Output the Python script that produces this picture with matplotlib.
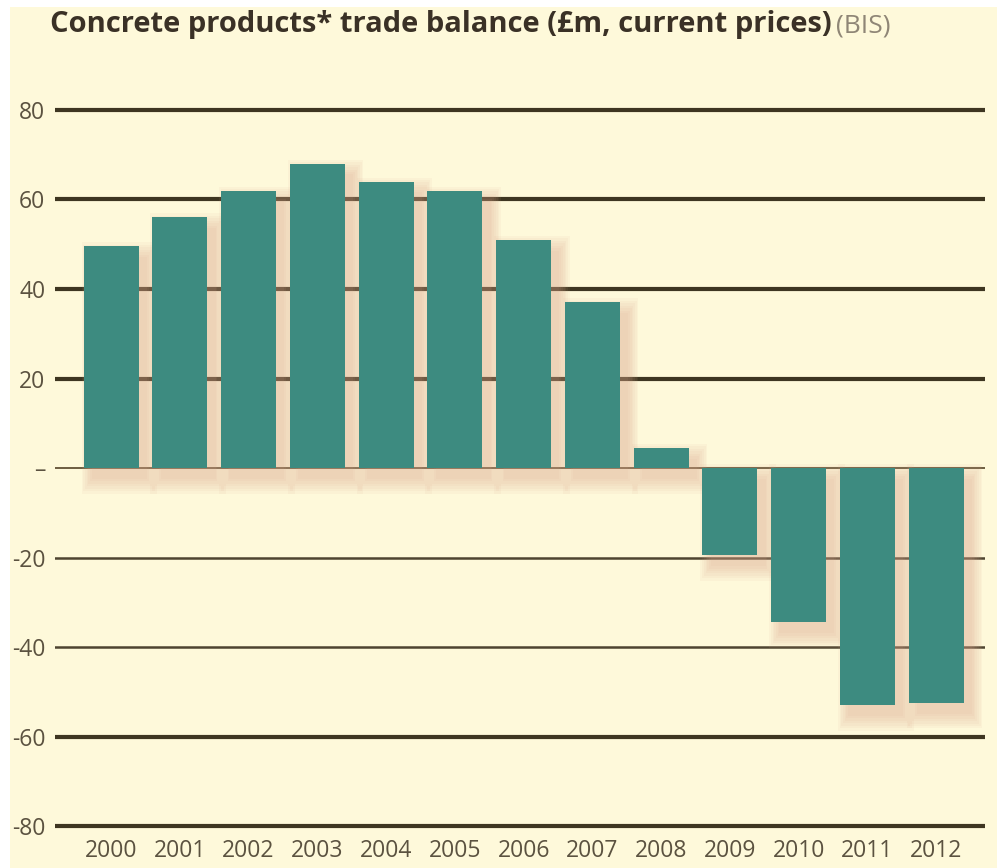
import numpy as np
import matplotlib
matplotlib.use("Agg")
import matplotlib.pyplot as plt
from matplotlib.patches import Rectangle

# trade balance, £m current prices
years = ['2000', '2001', '2002', '2003', '2004', '2005', '2006',
         '2007', '2008', '2009', '2010', '2011', '2012']
balance = [49.5, 56, 62, 68, 64, 62, 51, 37, 4.5, -19.5, -34.5, -53, -52.5]

yticks = [80, 60, 40, 20, 0, -20, -40, -60, -80]
ytick_labels = ['80', '60', '40', '20', '\u2013', '-20', '-40', '-60', '-80']

bg = '#fef9da'
teal = '#3d8b80'
shadow = '#dba58c'
line_dark = '#3e3621'
text_col = '#5b5240'

plt.rcParams['font.family'] = ['Open Sans', 'DejaVu Sans']

fig = plt.figure(figsize=(9.97, 8.68), dpi=100, facecolor=bg)
# thin white margin along the top and left edge
fig.patches.append(Rectangle((0, 0.992), 1, 0.008, transform=fig.transFigure,
                             facecolor='white', edgecolor='none', zorder=0))
fig.patches.append(Rectangle((0, 0), 0.01, 1, transform=fig.transFigure,
                             facecolor='white', edgecolor='none', zorder=0))

ax = fig.add_axes([0.0552, 0.038, 0.9328, 0.8456])
ax.set_facecolor(bg)

x = np.arange(len(years))
w = 0.8

# gridlines
for v in yticks:
    if v == 0:
        ax.axhline(v, color='#6d5d40', lw=1.4, zorder=1)
    elif v in (-20, -40):
        ax.axhline(v, color='#4e4430', lw=1.8, zorder=1)
    else:
        ax.axhline(v, color=line_dark, lw=3.0, zorder=1)

# soft drop shadow: stacked translucent bars, offset right and down
dx, dy = 0.12, 2.4
vals = np.array(balance)
for k in range(7):
    grow = k * 0.025
    gy = k * 0.55
    bottoms = np.where(vals > 0, -dy - gy, vals - dy - gy)
    heights = np.where(vals > 0, vals + 2 * gy, -vals + 2 * gy)
    ax.bar(x + dx, heights, width=w + 2 * grow, bottom=bottoms,
           color=shadow, alpha=0.075, edgecolor='none', zorder=2)

ax.bar(x, balance, width=w, color=teal, edgecolor='none', zorder=3)

ax.set_xlim(-0.815, 12.71)
ax.set_ylim(-82, 82)
ax.set_xticks(x)
ax.set_xticklabels(years, fontsize=16.5, color=text_col)
ax.set_yticks(yticks)
ax.set_yticklabels(ytick_labels, fontsize=16.5, color=text_col)
ax.tick_params(length=0)
ax.tick_params(axis='x', pad=3)
ax.tick_params(axis='y', pad=7)
for s in ax.spines.values():
    s.set_visible(False)

title_y = 0.963
t = fig.text(0.05, title_y, 'Concrete products* trade balance (\u00a3m, current prices)',
             fontsize=21, fontweight='bold', color='#3a3126', va='baseline')
# source note sits on the same baseline, right after the bold title
fig.canvas.draw()
bb = t.get_window_extent().transformed(fig.transFigure.inverted())
fig.text(bb.x1 + 0.005, title_y, '(BIS)', fontsize=19, color='#8f8676', va='baseline')

fig.savefig('out.png', dpi=100, facecolor=bg)
